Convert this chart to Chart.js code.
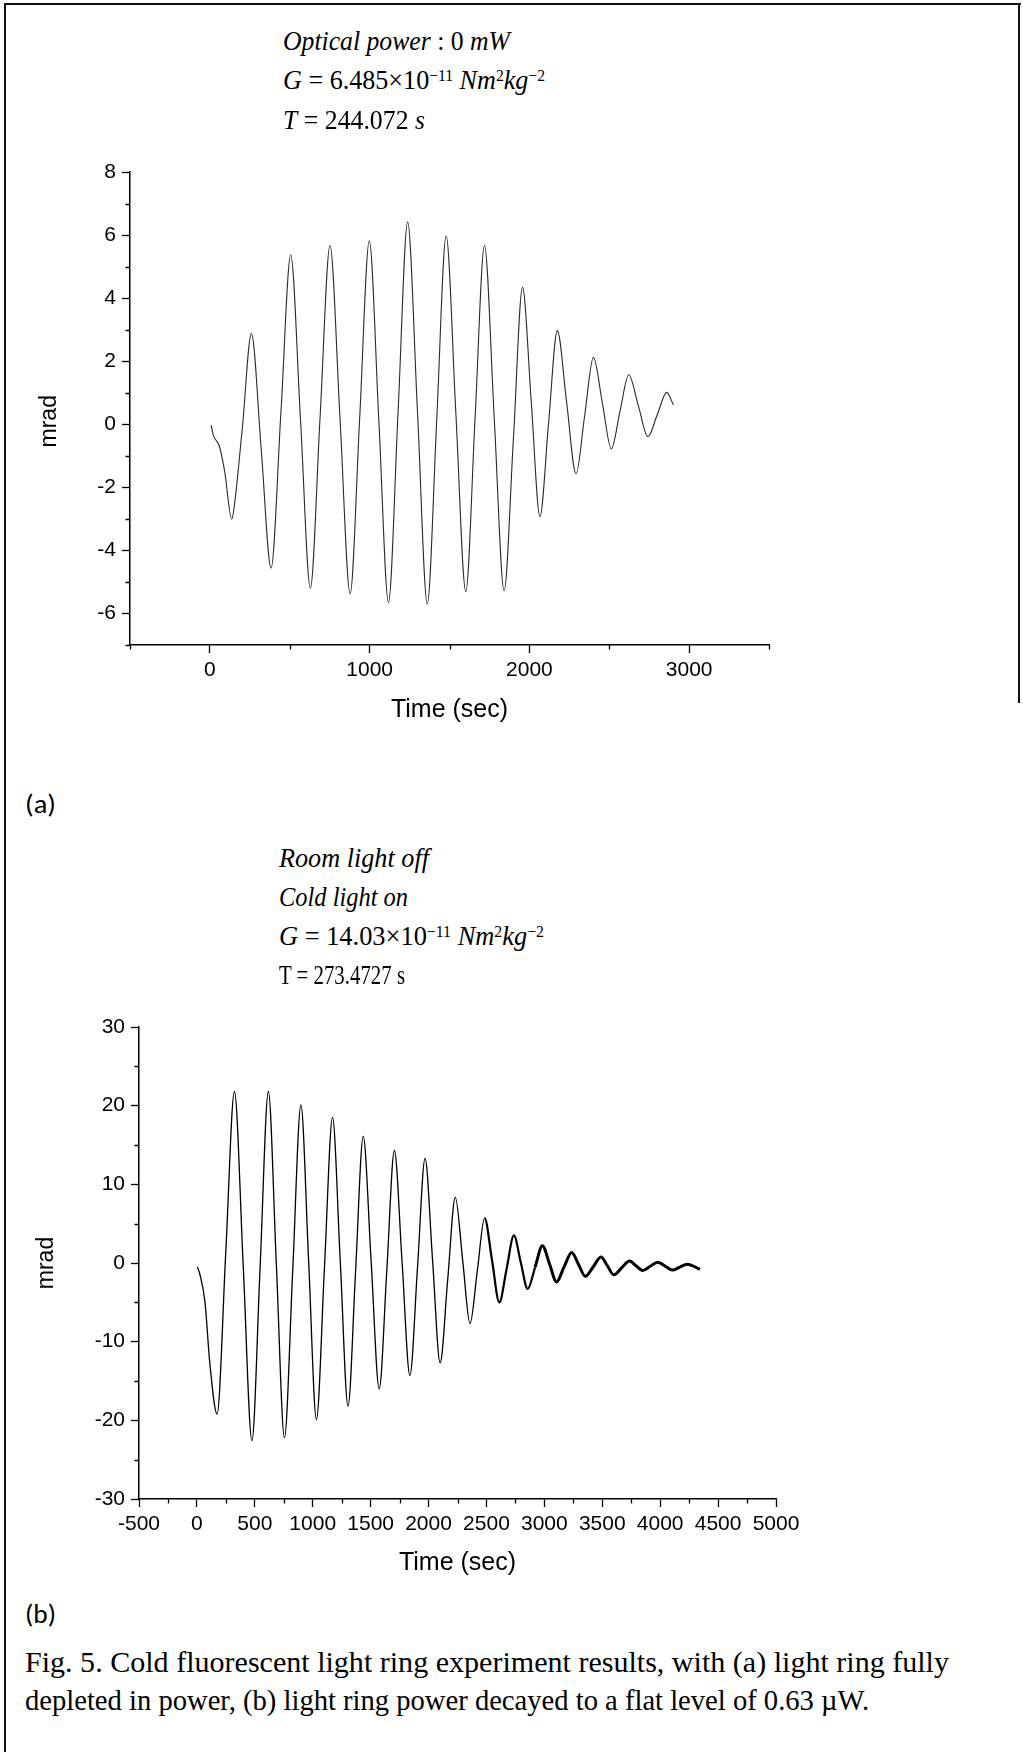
<!DOCTYPE html>
<html><head><meta charset="utf-8">
<script src="https://cdn.jsdelivr.net/npm/chart.js@4.4.1/dist/chart.umd.min.js"></script>
<style>
html,body{margin:0;padding:0;background:#fff;}
#page{position:relative;width:1023px;height:1752px;overflow:hidden;background:#fff;}
.bar{position:absolute;background:#111;}
canvas{position:absolute;left:0;}
.t{position:absolute;white-space:nowrap;color:#000;line-height:30px;height:30px;transform-origin:0 50%;}
.serif{font-family:"Liberation Serif","Times New Roman",Times,serif;font-size:28px;}
.lbl{font-family:Carlito,Lato,"Open Sans",sans-serif;font-size:27px;}
.sup{position:relative;top:-0.5em;font-size:0.6em;}
i{font-style:italic;}
</style></head>
<body><div id="page">
<div class="bar" style="left:4px;top:3px;width:1017px;height:2px"></div>
<div class="bar" style="left:4px;top:3px;width:2px;height:1749px"></div>
<div class="bar" style="left:1018px;top:3px;width:2px;height:700px"></div>

<canvas id="ca" width="830" height="610" style="top:130px;width:830px;height:610px"></canvas>
<canvas id="cb" width="830" height="610" style="top:985px;width:830px;height:610px"></canvas>

<div class="t serif fit" data-w="227" style="left:283px;top:26px"><i>Optical power</i> : 0 <i>mW</i></div>
<div class="t serif fit" data-w="262" style="left:283px;top:65px"><i>G</i> = 6.485×10<span class="sup">−11</span> <i>Nm</i><span class="sup">2</span><i>kg</i><span class="sup">−2</span></div>
<div class="t serif fit" data-w="142" style="left:283px;top:105px"><i>T</i> = 244.072 <i>s</i></div>

<div class="t lbl fit" data-w="31" style="left:25px;top:789px">(a)</div>

<div class="t serif fit" data-w="150" style="left:279px;top:843px"><i>Room light off</i></div>
<div class="t serif fit" data-w="129" style="left:279px;top:882px"><i>Cold light on</i></div>
<div class="t serif fit" data-w="265" style="left:279px;top:921px"><i>G</i> = 14.03×10<span class="sup">−11</span> <i>Nm</i><span class="sup">2</span><i>kg</i><span class="sup">−2</span></div>
<div class="t serif fit" data-w="126" style="left:279px;top:960px">T = 273.4727 s</div>

<div class="t lbl fit" data-w="31" style="left:25px;top:1599px">(b)</div>

<div class="t serif fit" data-w="924" style="left:25px;top:1647px;font-size:29px">Fig. 5. Cold fluorescent light ring experiment results, with (a) light ring fully</div>
<div class="t serif fit" data-w="844" style="left:25px;top:1685px;font-size:29px">depleted in power, (b) light ring power decayed to a flat level of 0.63 µW.</div>
</div>
<script>
// ---- Data ----
// (a) Optical power 0 mW
const aTime = [8, 22, 59, 92, 137, 151, 204, 260, 322, 383, 445, 506, 568, 629, 690, 752, 815, 878, 938, 998, 1058, 1118, 1178, 1238, 1300, 1361, 1420, 1479, 1540, 1602, 1660, 1719, 1780, 1842, 1900, 1957, 2012, 2066, 2120, 2175, 2233, 2292, 2346, 2401, 2457, 2513, 2567, 2622, 2682, 2742, 2801, 2860, 2902];
const aMrad = [-0.03, -0.35, -0.69, -1.48, -3.01, -2.67, -0.07, 2.88, -0.84, -4.56, 0.4, 5.37, 0.08, -5.2, 0.24, 5.67, 0.15, -5.37, 0.22, 5.82, 0.08, -5.65, 0.38, 6.41, 0.35, -5.7, 0.13, 5.97, 0.33, -5.31, 0.18, 5.67, 0.2, -5.28, -0.47, 4.34, 0.7, -2.93, 0.02, 2.97, 0.7, -1.57, 0.27, 2.12, 0.67, -0.78, 0.4, 1.57, 0.59, -0.39, 0.31, 1.01, 0.61];
// (b) Room light off, cold light on
const bTime = [4, 25, 70, 110, 174, 249, 324, 400, 475, 546, 617, 686, 756, 827, 898, 965, 1032, 1101, 1171, 1238, 1305, 1370, 1436, 1505, 1574, 1640, 1705, 1772, 1839, 1905, 1970, 2035, 2100, 2165, 2231, 2295, 2358, 2421, 2484, 2548, 2611, 2674, 2737, 2796, 2856, 2920, 2983, 3044, 3105, 3170, 3236, 3295, 3354, 3421, 3489, 3545, 3600, 3667, 3734, 3791, 3849, 3914, 3979, 4043, 4106, 4169, 4232, 4343];
const bMrad = [-0.5, -1.4, -5, -12.5, -19.2, 1.3, 21.8, -0.4, -22.6, -0.4, 21.8, -0.2, -22.2, -1.05, 20.1, 0.1, -19.9, -0.7, 18.5, 0.15, -18.2, -1.05, 16.1, 0.05, -16.0, -0.85, 14.3, 0, -14.3, -0.5, 13.3, 0.3, -12.7, -2.2, 8.35, 0.3, -7.7, -1.0, 5.7, 0.35, -5.0, -0.75, 3.5, 0.1, -3.3, -0.55, 2.2, -0.1, -2.4, -0.5, 1.35, -0.18, -1.7, -0.5, 0.75, -0.38, -1.5, -0.62, 0.25, -0.35, -0.95, -0.42, 0.1, -0.4, -0.9, -0.52, -0.15, -0.8];

// ---- Axes / ticks ----
const aXRange = [-500, 3500], aYRange = [-7, 8];
const aXMajor = [0, 1000, 2000, 3000], aXMinor = [-500, 500, 1500, 2500, 3500];
const aYMajor = [-6, -4, -2, 0, 2, 4, 6, 8], aYMinor = [-7, -5, -3, -1, 1, 3, 5, 7];
const bXRange = [-500, 5000], bYRange = [-30, 30];
const bXMajor = [-500, 0, 500, 1000, 1500, 2000, 2500, 3000, 3500, 4000, 4500, 5000];
const bXMinor = [-250, 250, 750, 1250, 1750, 2250, 2750, 3250, 3750, 4250, 4750];
const bYMajor = [-30, -20, -10, 0, 10, 20, 30], bYMinor = [-25, -15, -5, 5, 15, 25];
const xTitle = 'Time (sec)', yTitle = 'mrad';

// fit text widths
function fitTexts() {
  document.querySelectorAll('.fit').forEach(el => {
    el.style.transform = 'none';
    const w = el.getBoundingClientRect().width;
    const target = +el.dataset.w;
    if (w > 0) el.style.transform = 'scaleX(' + (target / w).toFixed(4) + ')';
  });
}
fitTexts();
if (document.fonts && document.fonts.ready) document.fonts.ready.then(fitTexts);

const minorTicks = {
  id: 'minorTicks',
  afterDraw(chart, args, o) {
    const ctx = chart.ctx, xs = chart.scales.x, ys = chart.scales.y;
    ctx.save();
    ctx.strokeStyle = '#000';
    ctx.lineWidth = 1.3;
    ctx.beginPath();
    o.xs.forEach(v => { const p = Math.round(xs.getPixelForValue(v)) + 0.5; ctx.moveTo(p, ys.bottom); ctx.lineTo(p, ys.bottom + o.len); });
    o.ys.forEach(v => { const p = Math.round(ys.getPixelForValue(v)) + 0.5; ctx.moveTo(xs.left, p); ctx.lineTo(xs.left - o.len, p); });
    ctx.stroke();
    ctx.restore();
  }
};

function build(id, times, vals, xr, yr, xMaj, xMin, yMaj, yMin, geo, lineOpts) {
  const font = {family: '"Liberation Sans", Arial, sans-serif', size: 21};
  return new Chart(document.getElementById(id), {
    type: 'line',
    data: {datasets: [Object.assign({
      data: times.map((t, i) => ({x: t, y: vals[i]})),
      pointRadius: 0,
      fill: false,
      cubicInterpolationMode: 'monotone'
    }, lineOpts)]},
    options: {
      responsive: false,
      animation: false,
      events: [],
      layout: {padding: geo.pad},
      plugins: {legend: {display: false}, tooltip: {enabled: false}, minorTicks: {xs: xMin, ys: yMin, len: 4.5}},
      scales: {
        x: {
          type: 'linear', min: xr[0], max: xr[1],
          afterBuildTicks: s => { s.ticks = xMaj.map(v => ({value: v})); },
          afterFit: s => { s.height = geo.xh; },
          grid: {drawOnChartArea: false, tickLength: 8, tickColor: '#000', tickWidth: 1.3},
          border: {color: '#000', width: 1.5},
          ticks: {color: '#000', font, padding: 5, autoSkip: false, maxRotation: 0, callback: v => String(v)},
          title: {display: true, text: xTitle, color: '#000', font: {family: '"Liberation Sans", Arial, sans-serif', size: 25}, padding: {top: 0, bottom: geo.xtp}}
        },
        y: {
          type: 'linear', min: yr[0], max: yr[1],
          afterBuildTicks: s => { s.ticks = yMaj.map(v => ({value: v})); },
          afterFit: s => { s.width = geo.yw; },
          grid: {drawOnChartArea: false, tickLength: 8, tickColor: '#000', tickWidth: 1.3},
          border: {color: '#000', width: 1.5},
          ticks: {color: '#000', font, padding: 6, callback: v => String(v)},
          title: {display: true, text: geo.ytext, color: '#000', font: {family: '"Liberation Sans", Arial, sans-serif', size: 23}, padding: {top: geo.ytp, bottom: 0}}
        }
      }
    },
    plugins: [minorTicks]
  });
}

build('ca', aTime, aMrad, aXRange, aYRange, aXMajor, aXMinor, aYMajor, aYMinor,
  {pad: {left: 0, right: 61, top: 42, bottom: 0}, xh: 95, yw: 130, xtp: 15, ytp: 36, ytext: yTitle + '    '},
  {borderColor: '#2a2a2a', borderWidth: 1.1});

build('cb', bTime, bMrad, bXRange, bYRange, bXMajor, bXMinor, bYMajor, bYMinor,
  {pad: {left: 0, right: 54, top: 42, bottom: 0}, xh: 96, yw: 139, xtp: 17, ytp: 33, ytext: yTitle},
  {borderColor: '#000', borderWidth: 1.3,
   segment: {borderWidth: c => { const x = c.p0.parsed.x; return x > 2900 ? 3 : (x > 2450 ? 2.2 : 1.3); }}});
</script>
</body></html>
